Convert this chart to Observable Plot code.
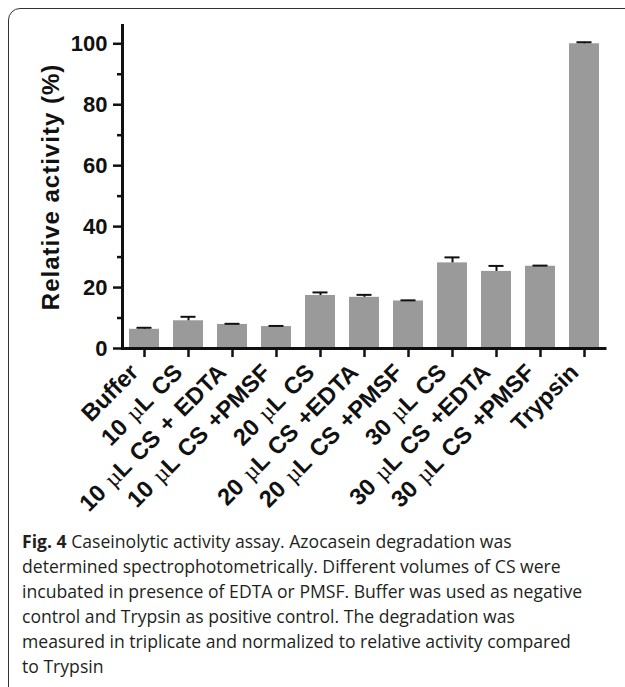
<!DOCTYPE html>
<html>
<head>
<meta charset="utf-8">
<script src="https://cdn.jsdelivr.net/npm/d3@7"></script>
<script src="https://cdn.jsdelivr.net/npm/@observablehq/plot@0.6"></script>
<style>
  html, body { margin: 0; padding: 0; background: #fff; }
  #wrap { position: relative; width: 625px; height: 687px; overflow: hidden; background: #fff; }
  #box { position: absolute; left: 8px; top: 8px; width: 700px; height: 720px; border: 1.5px solid #333; border-radius: 12px; box-sizing: border-box; }
  #chart { position: absolute; left: 0; top: 0; }
  #caption { position: absolute; left: 22px; top: 529px; font-family: "Open Sans", sans-serif; font-size: 17.6px; line-height: 25px; color: #231f20; white-space: nowrap; }
  #caption b { font-weight: 700; }
</style>
</head>
<body>
<div id="wrap">
  <div id="box"></div>
  <div id="chart"></div>
  <div id="caption"><b>Fig. 4</b> Caseinolytic activity assay. Azocasein degradation was<br>determined spectrophotometrically. Different volumes of CS were<br>incubated in presence of EDTA or PMSF. Buffer was used as negative<br>control and Trypsin as positive control. The degradation was<br>measured in triplicate and normalized to relative activity compared<br>to Trypsin</div>
</div>
<script>
const categories = ["Buffer", "10 µL CS", "10 µL CS + EDTA", "10 µL CS +PMSF", "20 µL CS", "20 µL CS +EDTA", "20 µL CS +PMSF", "30 µL CS", "30 µL CS +EDTA", "30 µL CS +PMSF", "Trypsin"];
const activity = [6.3, 9.1, 7.9, 7.2, 17.4, 16.8, 15.6, 28.1, 25.3, 27.0, 100];
const errorSD = [0.5, 1.3, 0.2, 0.2, 1.0, 0.8, 0.2, 1.8, 1.8, 0.2, 0.5];
const yMajorTicks = [0, 20, 40, 60, 80, 100];
const yMinorTicks = [10, 30, 50, 70, 90];
const yLabel = "Relative activity (%)";

const data = categories.map((c, i) => ({cat: c, v: activity[i], e: errorSD[i]}));
const font = "Liberation Sans, Arial, sans-serif";

const chart = Plot.plot({
  width: 625,
  height: 528,
  marginLeft: 122,
  marginRight: 18.5,
  marginTop: 25,
  marginBottom: 180,
  style: {fontFamily: font, background: "transparent", color: "#111"},
  x: {domain: categories, paddingInner: 0.32, paddingOuter: 0.16, label: null},
  y: {domain: [0, 106], label: null},
  marks: [
    Plot.barY(data, {x: "cat", y: "v", fill: "#9a9a9a"}),
    Plot.ruleX(data, {x: "cat", y1: "v", y2: d => d.v + d.e, stroke: "#111", strokeWidth: 2}),
    Plot.tickY(data, {x: "cat", y: d => d.v + d.e, stroke: "#111", strokeWidth: 2, insetLeft: 7.5, insetRight: 7.5}),
    Plot.frame({anchor: "left", stroke: "#111", strokeWidth: 3}),
    Plot.ruleY([0], {stroke: "#111", strokeWidth: 3}),
    Plot.axisY({ticks: yMajorTicks, tickSize: 9, tickPadding: 6, strokeWidth: 2.5, fontSize: 22, fontWeight: "bold", label: null, tickFormat: d => String(d)}),
    Plot.axisY({ticks: yMinorTicks, tickSize: 5, strokeWidth: 2.5, tickFormat: () => "", label: null}),
    Plot.axisX({tickSize: 9, tickPadding: 4, strokeWidth: 2.5, tickFormat: () => "", label: null}),
    Plot.text(categories, {x: d => d, frameAnchor: "bottom", dx: -10, dy: 20, rotate: -45, textAnchor: "end", lineAnchor: "middle", fontSize: 23.5, fontWeight: "bold", fill: "#111"}),
    Plot.text([yLabel], {frameAnchor: "left", dx: -71, rotate: -90, fontSize: 24, fontWeight: "bold", fill: "#111", textAnchor: "middle", lineAnchor: "middle"})
  ]
});
document.getElementById("chart").appendChild(chart);

// letter spacing on the y label, slightly wider word spacing and serif µ in the category labels
d3.select(chart).selectAll("text").each(function() {
  const t = d3.select(this);
  const s = this.textContent;
  if (s === yLabel) t.attr("letter-spacing", "1px");
  if (categories.includes(s)) t.attr("word-spacing", "2px");
  if (s.includes("µ")) {
    const parts = s.split("µ");
    t.text(null);
    parts.forEach((p, i) => {
      if (i > 0) t.append("tspan").attr("font-family", "Liberation Serif, serif").attr("font-weight", "normal").text("µ");
      t.append("tspan").text(p);
    });
  }
});
</script>
</body>
</html>
